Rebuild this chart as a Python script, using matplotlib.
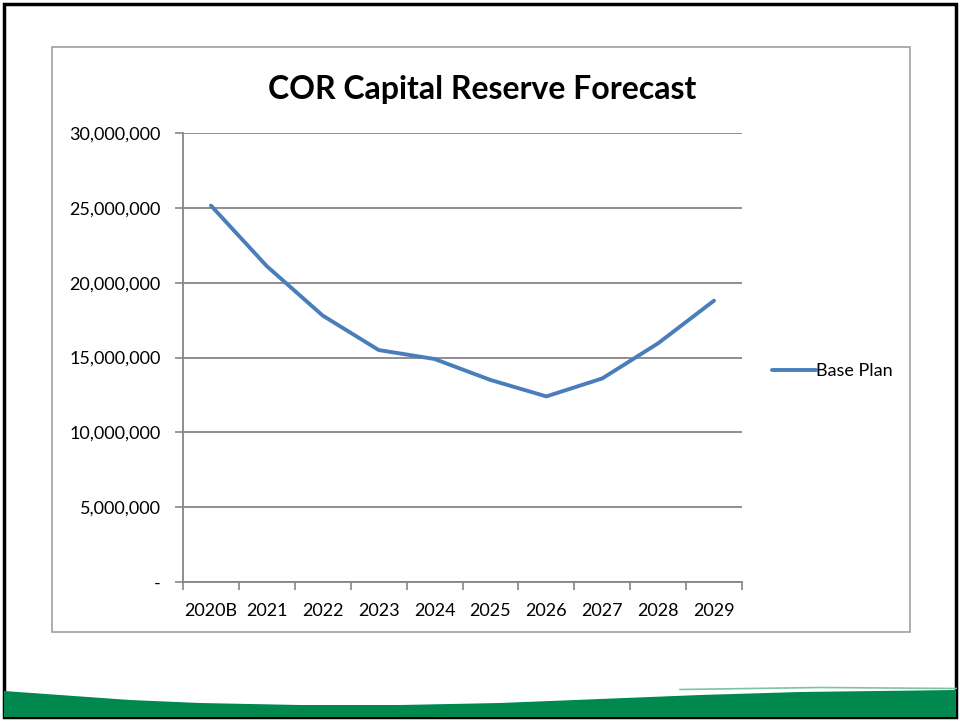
import matplotlib
matplotlib.use("Agg")
import matplotlib.pyplot as plt
from matplotlib.patches import Rectangle, Polygon
from matplotlib.ticker import FuncFormatter, FixedLocator
import numpy as np

years = ['2020B', '2021', '2022', '2023', '2024', '2025', '2026', '2027', '2028', '2029']
base_plan = [25150000, 21100000, 17800000, 15500000, 14900000, 13500000, 12400000, 13600000, 15950000, 18800000]

plt.rcParams['font.family'] = ['Lato', 'DejaVu Sans']

fig = plt.figure(figsize=(9.6, 7.21), dpi=100)

# slide background / decorations, pixel coords
bg = fig.add_axes([0, 0, 1, 1])
bg.set_xlim(0, 960)
bg.set_ylim(721, 0)
bg.axis('off')
bg.add_patch(Rectangle((4, 4), 952, 713, fill=False, ec='black', lw=2.5))
bg.add_patch(Rectangle((52, 47), 858, 585, fill=False, ec='#a0a0a0', lw=1.2))
xs = np.linspace(4, 956, 120)
top = np.interp(xs, [4, 60, 130, 200, 300, 400, 500, 600, 700, 800, 956],
                [691, 695, 700, 703, 705, 705, 703, 699, 695, 692, 690])
pts = list(zip(xs, top)) + [(956, 717), (4, 717)]
bg.add_patch(Polygon(pts, closed=True, fc='#00884f', ec='none'))
bg.plot([680, 820, 956], [689.5, 687.5, 688.5], color='#7fc3a4', lw=1.2)

ax = fig.add_axes([183 / 960, 1 - 582 / 721, 559 / 960, 449 / 721])
x = np.arange(len(years))
ax.plot(x, base_plan, color='#4a7ebb', lw=2.8, label='Base Plan', solid_capstyle='round')

ax.set_xlim(-0.5, len(years) - 0.5)
ax.set_ylim(0, 30000000)
ax.set_yticks(np.arange(0, 30000001, 5000000))
ax.yaxis.set_major_formatter(FuncFormatter(lambda v, p: '-' if v == 0 else f'{int(v):,}'))
ax.set_xticks(x)
ax.set_xticklabels(years)
ax.xaxis.set_minor_locator(FixedLocator(np.arange(-0.5, len(years), 1)))
ax.tick_params(axis='x', which='major', length=0, pad=15, labelsize=13, colors='#000000')
ax.tick_params(axis='x', which='minor', length=6, width=1.2, color='#868686', direction='out')
ax.tick_params(axis='y', length=6, width=1.2, color='#868686', labelsize=13, pad=10)

ax.grid(axis='y', color='#868686', lw=1.3)
ax.set_axisbelow(True)
for s in ['top', 'right']:
    ax.spines[s].set_visible(False)
for s in ['left', 'bottom']:
    ax.spines[s].set_color('#868686')
    ax.spines[s].set_linewidth(1.3)

fig.text(482 / 960, 1 - 89 / 721, 'COR Capital Reserve Forecast', ha='center', va='center',
         fontsize=23, fontweight='bold')

ax.legend(loc='center left', bbox_to_anchor=(1.025, 0.47), frameon=False, fontsize=13,
          handlelength=2.4, handletextpad=0.05)

fig.savefig('out.png', dpi=100)
